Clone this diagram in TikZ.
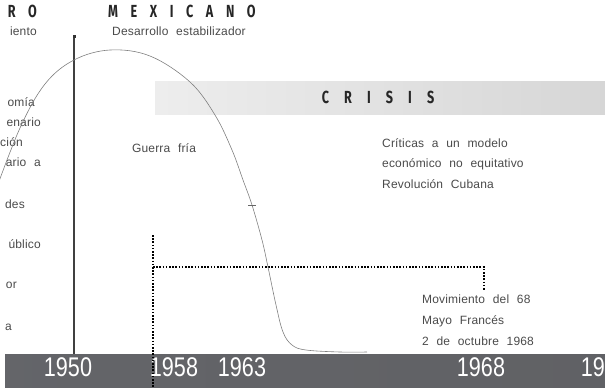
\documentclass[tikz,border=0pt]{standalone}
\usepackage{fontspec}
\setmainfont{Liberation Sans}[WordSpace=2.2,LetterSpace=1.5]
\newfontfamily\headfont{Fira Sans}[LetterSpace=100]
\newfontfamily\yearfont{Liberation Sans}
\usetikzlibrary{positioning}

\definecolor{txtgray}{HTML}{4A4A4A}
\definecolor{bargray}{HTML}{6B6C70}

\tikzset{
  txt/.style={inner sep=0pt, text=txtgray, font=\fontsize{12}{20.7}\selectfont},
  head/.style={inner sep=0pt, text=black!85, font=\headfont\bfseries\fontsize{17.5}{17.5}\selectfont},
  year/.style={inner sep=0pt, text=white, font=\yearfont\fontsize{27}{27}\selectfont},
  dots/.style={black, line width=1.3pt, dash pattern=on 1.6pt off 1.6pt},
  trend/.style={black!50, line width=0.6pt}
}

\begin{document}
\begin{tikzpicture}[x=1pt,y=-1pt]
  \useasboundingbox (0,0) rectangle (605,388);
  \clip (0,0) rectangle (605,388);
  % titles
  \node[head, anchor=east] (milagro) at (37,11) {\scalebox{0.72}[1]{RO}};
  \node[head, anchor=west] (mexicano) at (108,11) {\scalebox{0.72}[1]{MEXICANO}};
  \node[txt, anchor=east] (crec) at (37,31) {iento};
  \node[txt, anchor=west] (desarrollo) at (112,31) {Desarrollo estabilizador};
  % left column (cut at the border)
  \node[txt, anchor=east] (l1) at (35,102) {omía};
  \node[txt, anchor=east] (l2) at (41,122) {enario};
  \node[txt, anchor=east] (l3) at (23,142) {ción};
  \node[txt, anchor=east] (l4) at (41,162) {ario a};
  \node[txt, anchor=east] (l5) at (25,204) {des};
  \node[txt, anchor=east] (l6) at (41,244) {úblico};
  \node[txt, anchor=east] (l7) at (17,285) {or};
  \node[txt, anchor=east] (l8) at (12,327) {a};
  % crisis box
  \shade[left color=black!7, right color=black!16] (155,81) rectangle (605,114);
  \node[head, font=\headfont\bfseries\fontsize{17.5}{17.5}\selectfont\addfontfeatures{LetterSpace=120}] (crisis) at (378,97) {\scalebox{0.72}[1]{CRISIS}};
  % labels
  \node[txt] (guerra) at (164,148) {Guerra fría};
  \node[txt, anchor=north west, align=left] (criticas) at (382,138)
    {Críticas a un modelo\\económico no equitativo\\Revolución Cubana};
  \node[txt, anchor=north west, align=left] (movimiento) at (422,295)
    {Movimiento del 68\\Mayo Francés\\2 de octubre 1968};
  % bar with years
  \shade[left color=bargray!105, right color=bargray!90!black] (5,354) rectangle (605,388);
  \node[year] (y50) at (68,367) {\scalebox{0.8}[1]{1950}};
  \node[year] (y58) at (174,367) {\scalebox{0.8}[1]{1958}};
  \node[year] (y63) at (242,367) {\scalebox{0.8}[1]{1963}};
  \node[year] (y68) at (481,367) {\scalebox{0.8}[1]{1968}};
  \node[year, anchor=east] (y70) at (605,367) {\scalebox{0.8}[1]{19}};
  % 1950 line
  \coordinate (top50) at (74,36);
  \coordinate (bot50) at (74,354);
  \draw[black!75, line width=1.2pt] (top50) -- (bot50);
  \fill[black!80] (top50) ++(-1.5,-1.5) rectangle ++(3,3);
  % dotted 1958 - 1968
  \coordinate (top58) at (153,235);
  \coordinate (bot58) at (153,390);
  \coordinate (c58) at (153,267);
  \coordinate (c68) at (484,267);
  \coordinate (end68) at (484,290);
  \draw[dots] (top58) -- (bot58);
  \draw[dots] (c58) -- (c68) -- (end68);
  % growth curve
  \draw[trend] plot[smooth, tension=0.6] coordinates {(-6,195) (20,128) (45,84) (74,60) (110,50)
    (150,56) (190,82) (215,115) (232,150) (243,180) (252,205) (262,240) (268,267)
    (276,305) (283,332) (292,345) (306,350) (340,352) (367,352)};
  \draw[black!60, line width=0.6pt] (248,205) -- (256,205);
\end{tikzpicture}
\end{document}
